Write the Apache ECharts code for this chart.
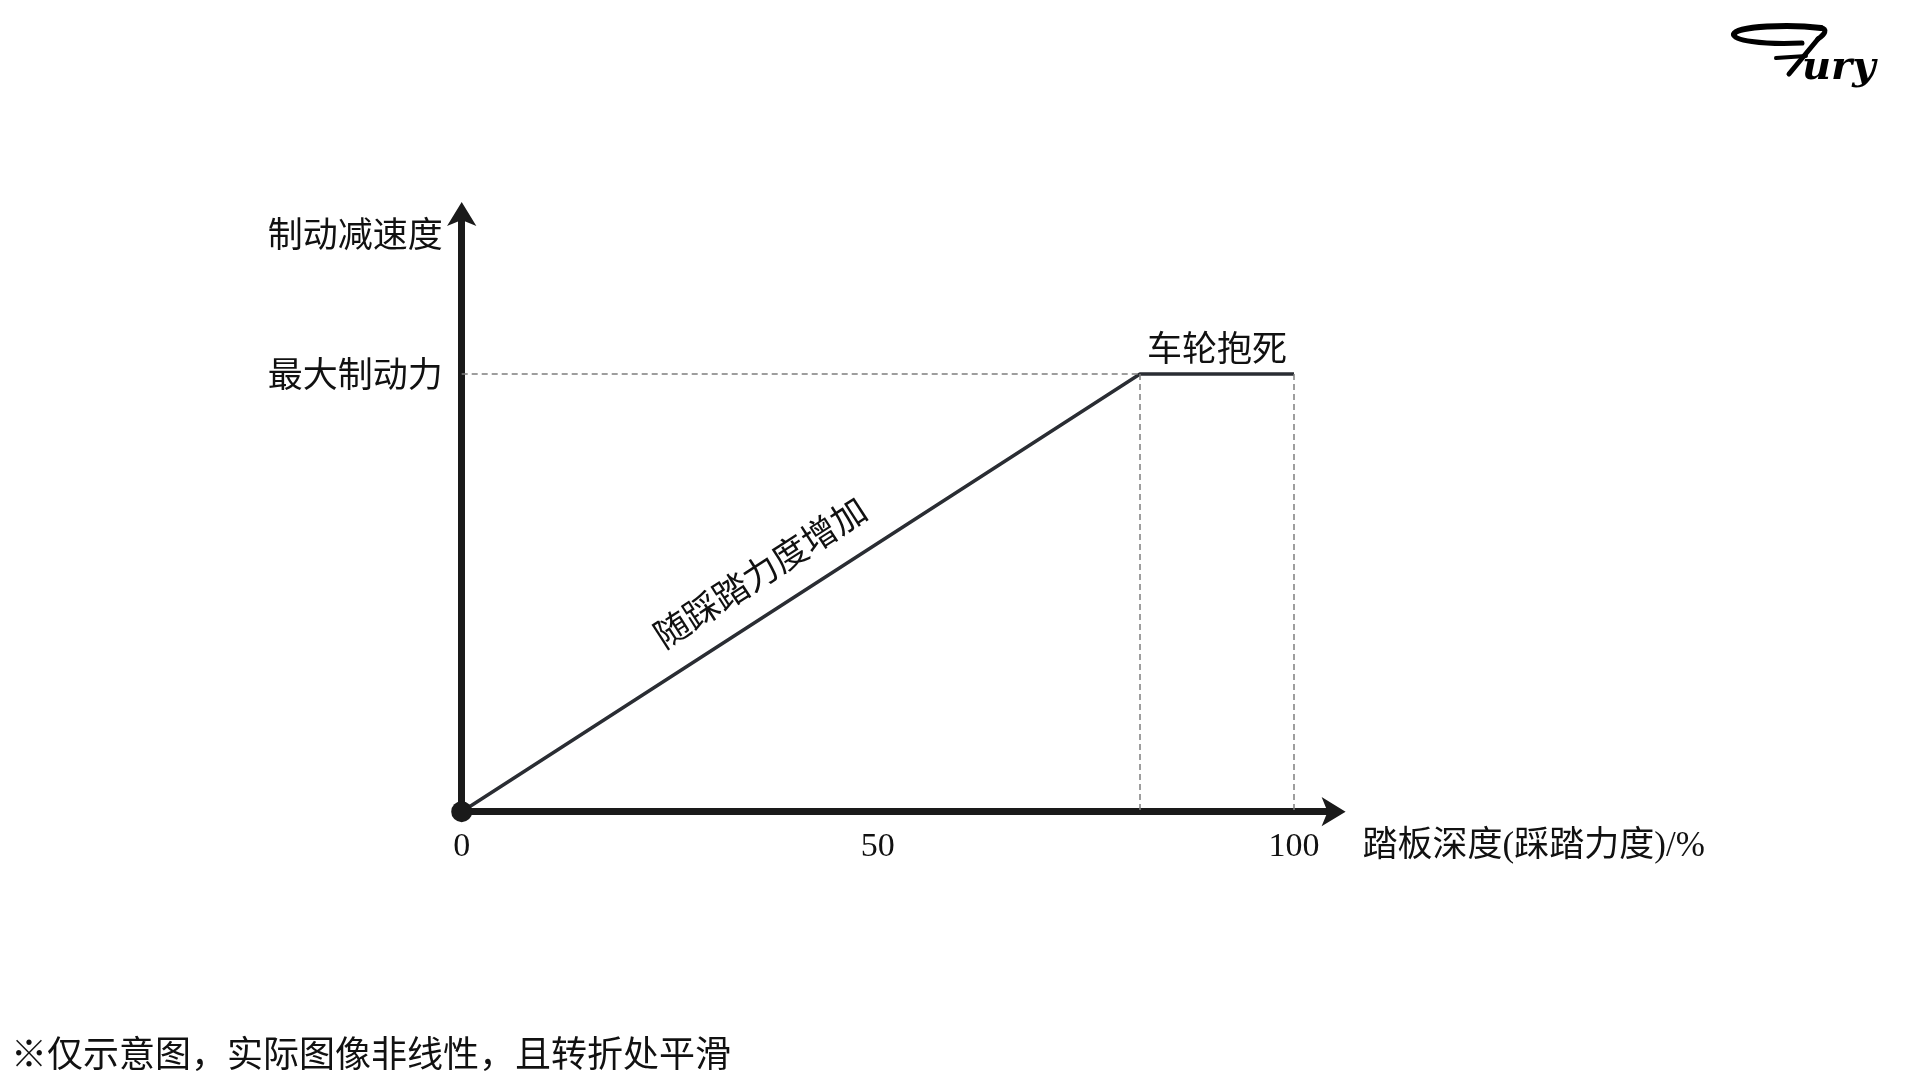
<!DOCTYPE html>
<html><head><meta charset="utf-8">
<script src="https://cdn.jsdelivr.net/npm/echarts@6/dist/echarts.min.js"></script>
<style>html,body{margin:0;padding:0;background:#fff}#c{width:1920px;height:1080px}</style>
</head><body><div id="c"></div>
<script>
// ---- data ----
const pedalDepth   = [0, 81.5, 100];      // x: pedal depth %
const deceleration = [0, 100, 100];       // y: braking deceleration (100 = max braking force)
const xTickValues  = [0, 50, 100];
const maxForce     = 100;
const yTickLabel   = '最大制动力';
const yName        = '制动减速度';
const xName        = '踏板深度(踩踏力度)/%';
const slopeText    = '随踩踏力度增加';
const lockText     = '车轮抱死';
const noteText     = '※仅示意图，实际图像非线性，且转折处平滑';

const FONT = '"Liberation Serif", "Noto Sans CJK SC", serif';
const AX = '#1a1a1a';

const chart = echarts.init(document.getElementById('c'), null, {renderer: 'canvas'});
const lineData = pedalDepth.map((x, i) => [x, deceleration[i]]);
const kinkX = pedalDepth[1], endX = pedalDepth[2];

const logoStroke = {stroke: '#000', lineWidth: 5, lineCap: 'round', fill: 'none'};
const hidden = {color: 'rgba(0,0,0,0)', width: 0, opacity: 1, type: 'solid'};
const txt = {fontSize: 35, color: '#111', opacity: 1, fontFamily: FONT};

chart.setOption({
  animation: false,
  backgroundColor: '#ffffff',
  title: {
    text: noteText, left: 6, top: 1035,
    textStyle: {fontSize: 36, fontWeight: 'normal', color: '#111', fontFamily: FONT}
  },
  grid: {left: 461.7, right: 584.4, top: 212.1, bottom: 268.3, containLabel: false},
  xAxis: {
    type: 'value', min: 0, max: 105, interval: 50,
    name: xName, nameLocation: 'end', nameGap: 27, nameMoveOverlap: false,
    nameTextStyle: {fontSize: 35, color: '#111', fontFamily: FONT, align: 'left', verticalAlign: 'top', lineHeight: 70},
    axisLine: {show: true, onZero: true, symbol: ['none', 'arrow'], symbolSize: [22, 24], symbolOffset: [0, 10], lineStyle: {color: AX, width: 7}},
    axisTick: {show: false}, splitLine: {show: false},
    axisLabel: {
      show: true, margin: 18, fontSize: 34, color: '#111', fontFamily: FONT,
      showMaxLabel: false,
      formatter: v => xTickValues.indexOf(v) >= 0 ? String(v) : ''
    }
  },
  yAxis: {
    type: 'value', min: 0, max: 137, interval: 100,
    name: yName, nameLocation: 'end', nameGap: -26, nameMoveOverlap: false,
    nameTextStyle: {fontSize: 35, color: '#111', fontFamily: FONT, align: 'right', verticalAlign: 'middle', padding: [0, 19, 0, 0]},
    axisLine: {show: true, onZero: true, symbol: ['none', 'arrow'], symbolSize: [22, 24], symbolOffset: [0, 10], lineStyle: {color: AX, width: 7}},
    axisTick: {show: false}, splitLine: {show: false},
    axisLabel: {
      show: true, margin: 19, fontSize: 35, color: '#111', fontFamily: FONT,
      showMaxLabel: false, verticalAlign: 'top', lineHeight: 8,
      formatter: v => v === maxForce ? yTickLabel : ''
    }
  },
  series: [
    {
      type: 'line', data: lineData, showSymbol: false, z: 3,
      lineStyle: {color: '#2a2d33', width: 3.5},
      markLine: {
        silent: true, symbol: ['none', 'none'], animation: false,
        label: {show: false},
        lineStyle: {color: '#7f7f7f', width: 1.5, type: [6, 4]},
        data: [
          [{coord: [0, maxForce]}, {coord: [kinkX, maxForce]}],
          [{coord: [kinkX, maxForce]}, {coord: [kinkX, 0]}],
          [{coord: [endX, maxForce]}, {coord: [endX, 0]}],
          [{coord: lineData[0], lineStyle: hidden,
            label: Object.assign({show: true, formatter: slopeText, position: 'middle', distance: 18, padding: [0, 46, 0, 0]}, txt)},
           {coord: lineData[1]}],
          [{coord: lineData[1], lineStyle: hidden,
            label: Object.assign({show: true, formatter: lockText, position: 'middle', distance: 5}, txt)},
           {coord: lineData[2]}]
        ]
      }
    },
    {
      type: 'scatter', data: [lineData[0]], symbol: 'circle', symbolSize: 21, z: 10,
      itemStyle: {color: AX, opacity: 1}, silent: true
    }
  ],
  graphic: [
    {type: 'bezierCurve', z: 100, shape: {x1: 1802, y1: 43, cpx1: 1762, cpy1: 45, cpx2: 1731, cpy2: 40, x2: 1734, y2: 34}, style: logoStroke},
    {type: 'bezierCurve', z: 100, shape: {x1: 1734, y1: 34, cpx1: 1737, cpy1: 26, cpx2: 1790, cpy2: 24, x2: 1821, y2: 28}, style: Object.assign({}, logoStroke, {lineWidth: 6})},
    {type: 'bezierCurve', z: 100, shape: {x1: 1821, y1: 28, cpx1: 1828, cpy1: 29, cpx2: 1825, cpy2: 34, x2: 1818, y2: 39}, style: logoStroke},
    {type: 'line', z: 100, shape: {x1: 1818, y1: 39, x2: 1789, y2: 74}, style: logoStroke},
    {type: 'line', z: 100, shape: {x1: 1776, y1: 58, x2: 1806, y2: 56}, style: {stroke: '#000', lineWidth: 4, lineCap: 'round'}},
    {type: 'text', z: 100, x: 1802, y: 49,
     style: {text: 'ury', font: 'italic bold 40px "DejaVu Serif", serif', fill: '#000'}}
  ]
});
</script>
</body></html>
